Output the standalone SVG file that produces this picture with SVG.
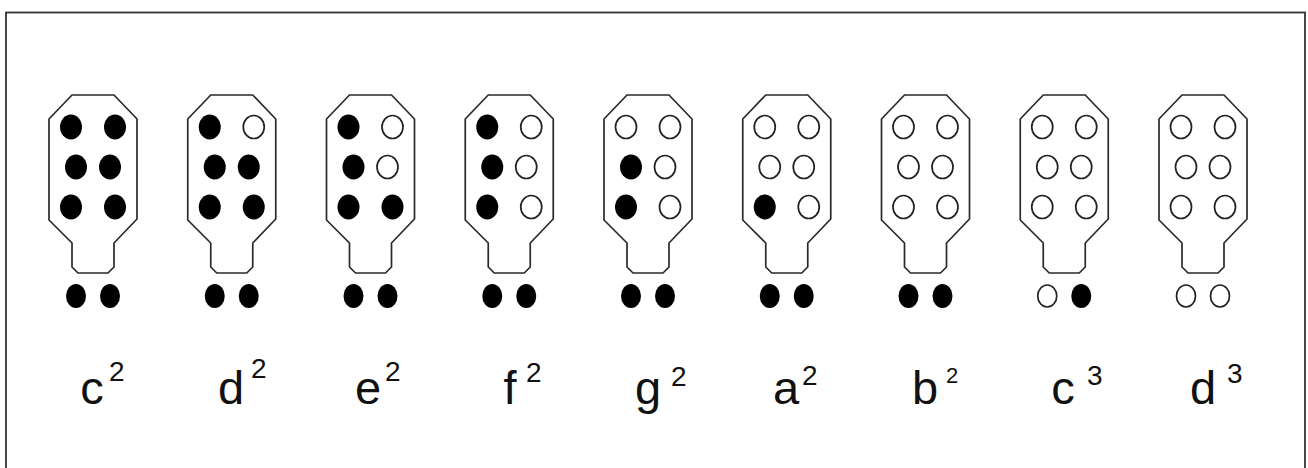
<svg xmlns="http://www.w3.org/2000/svg" xmlns:xlink="http://www.w3.org/1999/xlink" width="1308" height="468" viewBox="0 0 1308 468">
  <style>
    .frame { fill: none; stroke: #333; stroke-width: 1.8; }
    .body { fill: none; stroke: #2a2a2a; stroke-width: 1.7; stroke-linejoin: miter; }
    .on { fill: #000; }
    .off { fill: #fff; stroke: #222; stroke-width: 1.7; }
    .note { font-family: "Liberation Sans", Arial, sans-serif; font-size: 47px; fill: #111; text-anchor: middle; }
    .oct { font-family: "Liberation Sans", Arial, sans-serif; font-size: 28px; fill: #111; }
  </style>
  <defs>
    <!-- instrument outline, centred on x = 0 -->
    <path id="body" class="body" d="M -21 95 L 21 95 L 44 119 L 44 219 L 21 243 L 21 267 L 15 273 L -15 273 L -21 267 L -21 243 L -44 220 L -44 119 Z"/>
  </defs>

  <rect class="frame" x="6" y="12.5" width="1299" height="470"/>

  <!-- c2 -->
  <g id="chart-c2" transform="translate(93,0)">
    <use xlink:href="#body"/>
    <ellipse class="on" cx="-22" cy="127" rx="11" ry="12.5"/><ellipse class="on" cx="22" cy="127" rx="11" ry="12.5"/>
    <ellipse class="on" cx="-17" cy="167" rx="11" ry="12.5"/><ellipse class="on" cx="17" cy="167" rx="11" ry="12.5"/>
    <ellipse class="on" cx="-22" cy="207" rx="11" ry="12.5"/><ellipse class="on" cx="22" cy="207" rx="11" ry="12.5"/>
    <ellipse class="on" cx="-17" cy="296" rx="10" ry="12"/><ellipse class="on" cx="17" cy="296" rx="10" ry="12"/>
  </g>
  <!-- d2 -->
  <g id="chart-d2" transform="translate(231.75,0)">
    <use xlink:href="#body"/>
    <ellipse class="on" cx="-22" cy="127" rx="11" ry="12.5"/><ellipse class="off" cx="22" cy="127" rx="10.5" ry="11.5"/>
    <ellipse class="on" cx="-17" cy="167" rx="11" ry="12.5"/><ellipse class="on" cx="17" cy="167" rx="11" ry="12.5"/>
    <ellipse class="on" cx="-22" cy="207" rx="11" ry="12.5"/><ellipse class="on" cx="22" cy="207" rx="11" ry="12.5"/>
    <ellipse class="on" cx="-17" cy="296" rx="10" ry="12"/><ellipse class="on" cx="17" cy="296" rx="10" ry="12"/>
  </g>
  <!-- e2 -->
  <g id="chart-e2" transform="translate(370.5,0)">
    <use xlink:href="#body"/>
    <ellipse class="on" cx="-22" cy="127" rx="11" ry="12.5"/><ellipse class="off" cx="22" cy="127" rx="10.5" ry="11.5"/>
    <ellipse class="on" cx="-17" cy="167" rx="11" ry="12.5"/><ellipse class="off" cx="17" cy="167" rx="10.5" ry="11.5"/>
    <ellipse class="on" cx="-22" cy="207" rx="11" ry="12.5"/><ellipse class="on" cx="22" cy="207" rx="11" ry="12.5"/>
    <ellipse class="on" cx="-17" cy="296" rx="10" ry="12"/><ellipse class="on" cx="17" cy="296" rx="10" ry="12"/>
  </g>
  <!-- f2 -->
  <g id="chart-f2" transform="translate(509.25,0)">
    <use xlink:href="#body"/>
    <ellipse class="on" cx="-22" cy="127" rx="11" ry="12.5"/><ellipse class="off" cx="22" cy="127" rx="10.5" ry="11.5"/>
    <ellipse class="on" cx="-17" cy="167" rx="11" ry="12.5"/><ellipse class="off" cx="17" cy="167" rx="10.5" ry="11.5"/>
    <ellipse class="on" cx="-22" cy="207" rx="11" ry="12.5"/><ellipse class="off" cx="22" cy="207" rx="10.5" ry="11.5"/>
    <ellipse class="on" cx="-17" cy="296" rx="10" ry="12"/><ellipse class="on" cx="17" cy="296" rx="10" ry="12"/>
  </g>
  <!-- g2 -->
  <g id="chart-g2" transform="translate(648,0)">
    <use xlink:href="#body"/>
    <ellipse class="off" cx="-22" cy="127" rx="10.5" ry="11.5"/><ellipse class="off" cx="22" cy="127" rx="10.5" ry="11.5"/>
    <ellipse class="on" cx="-17" cy="167" rx="11" ry="12.5"/><ellipse class="off" cx="17" cy="167" rx="10.5" ry="11.5"/>
    <ellipse class="on" cx="-22" cy="207" rx="11" ry="12.5"/><ellipse class="off" cx="22" cy="207" rx="10.5" ry="11.5"/>
    <ellipse class="on" cx="-17" cy="296" rx="10" ry="12"/><ellipse class="on" cx="17" cy="296" rx="10" ry="12"/>
  </g>
  <!-- a2 -->
  <g id="chart-a2" transform="translate(786.75,0)">
    <use xlink:href="#body"/>
    <ellipse class="off" cx="-22" cy="127" rx="10.5" ry="11.5"/><ellipse class="off" cx="22" cy="127" rx="10.5" ry="11.5"/>
    <ellipse class="off" cx="-17" cy="167" rx="10.5" ry="11.5"/><ellipse class="off" cx="17" cy="167" rx="10.5" ry="11.5"/>
    <ellipse class="on" cx="-22" cy="207" rx="11" ry="12.5"/><ellipse class="off" cx="22" cy="207" rx="10.5" ry="11.5"/>
    <ellipse class="on" cx="-17" cy="296" rx="10" ry="12"/><ellipse class="on" cx="17" cy="296" rx="10" ry="12"/>
  </g>
  <!-- b2 -->
  <g id="chart-b2" transform="translate(925.5,0)">
    <use xlink:href="#body"/>
    <ellipse class="off" cx="-22" cy="127" rx="10.5" ry="11.5"/><ellipse class="off" cx="22" cy="127" rx="10.5" ry="11.5"/>
    <ellipse class="off" cx="-17" cy="167" rx="10.5" ry="11.5"/><ellipse class="off" cx="17" cy="167" rx="10.5" ry="11.5"/>
    <ellipse class="off" cx="-22" cy="207" rx="10.5" ry="11.5"/><ellipse class="off" cx="22" cy="207" rx="10.5" ry="11.5"/>
    <ellipse class="on" cx="-17" cy="296" rx="10" ry="12"/><ellipse class="on" cx="17" cy="296" rx="10" ry="12"/>
  </g>
  <!-- c3 -->
  <g id="chart-c3" transform="translate(1064.25,0)">
    <use xlink:href="#body"/>
    <ellipse class="off" cx="-22" cy="127" rx="10.5" ry="11.5"/><ellipse class="off" cx="22" cy="127" rx="10.5" ry="11.5"/>
    <ellipse class="off" cx="-17" cy="167" rx="10.5" ry="11.5"/><ellipse class="off" cx="17" cy="167" rx="10.5" ry="11.5"/>
    <ellipse class="off" cx="-22" cy="207" rx="10.5" ry="11.5"/><ellipse class="off" cx="22" cy="207" rx="10.5" ry="11.5"/>
    <ellipse class="off" cx="-17" cy="296" rx="9.5" ry="11"/><ellipse class="on" cx="17" cy="296" rx="10" ry="12"/>
  </g>
  <!-- d3 -->
  <g id="chart-d3" transform="translate(1203,0)">
    <use xlink:href="#body"/>
    <ellipse class="off" cx="-22" cy="127" rx="10.5" ry="11.5"/><ellipse class="off" cx="22" cy="127" rx="10.5" ry="11.5"/>
    <ellipse class="off" cx="-17" cy="167" rx="10.5" ry="11.5"/><ellipse class="off" cx="17" cy="167" rx="10.5" ry="11.5"/>
    <ellipse class="off" cx="-22" cy="207" rx="10.5" ry="11.5"/><ellipse class="off" cx="22" cy="207" rx="10.5" ry="11.5"/>
    <ellipse class="off" cx="-17" cy="296" rx="9.5" ry="11"/><ellipse class="off" cx="17" cy="296" rx="9.5" ry="11"/>
  </g>

  <!-- note names with octave marks -->
  <g id="labels">
    <text class="note" x="92" y="404">c</text><text class="oct" x="109" y="381">2</text>
    <text class="note" x="231" y="404">d</text><text class="oct" x="251" y="378">2</text>
    <text class="note" x="368" y="404">e</text><text class="oct" x="385" y="381">2</text>
    <text class="note" x="510" y="404">f</text><text class="oct" x="526" y="382">2</text>
    <text class="note" x="648" y="404">g</text><text class="oct" x="671" y="386">2</text>
    <text class="note" x="786" y="404">a</text><text class="oct" x="802" y="385">2</text>
    <text class="note" x="925" y="404">b</text><text class="oct" x="946" y="383" style="font-size:22px">2</text>
    <text class="note" x="1063" y="404">c</text><text class="oct" x="1087" y="385">3</text>
    <text class="note" x="1203" y="404">d</text><text class="oct" x="1227" y="383">3</text>
  </g>
</svg>
